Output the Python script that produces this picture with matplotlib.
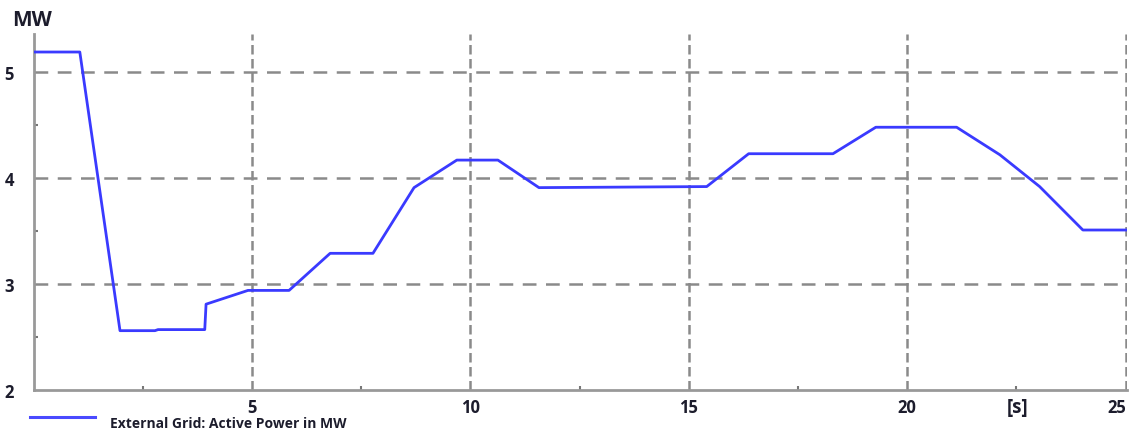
import numpy as np
import matplotlib
matplotlib.use("Agg")
import matplotlib.pyplot as plt
import matplotlib.transforms as mtransforms

# time in s, active power in MW
t = [0.0, 1.06, 1.98, 2.78, 2.85, 3.92, 3.95, 4.91, 5.85, 6.79, 7.77, 8.71,
     9.69, 10.63, 11.57, 15.41, 16.37, 18.30, 19.28, 21.13, 22.12, 23.03,
     24.02, 25.03]
p_mw = [5.19, 5.19, 2.56, 2.56, 2.57, 2.57, 2.81, 2.94, 2.94, 3.29, 3.29, 3.91,
        4.17, 4.17, 3.91, 3.92, 4.23, 4.23, 4.48, 4.48, 4.22, 3.92,
        3.51, 3.51]

x_ticks = [5, 10, 15, 20, 25]
y_ticks = [2, 3, 4, 5]
series_label = "External Grid: Active Power in MW"

plt.rcParams['font.family'] = ['Open Sans', 'DejaVu Sans']
txt = '#1c1c2c'
grid_c = '#8a8a8a'

fig = plt.figure(figsize=(11.32, 4.35), dpi=100)
ax = fig.add_axes([33.5 / 1132, 44 / 435, (1127 - 33.5) / 1132, (391 - 35) / 435])

ax.plot(t, p_mw, color='#3a3aff', lw=2.0, label=series_label, zorder=3)

ax.set_xlim(0, 25.03)
ax.set_ylim(2.02, 5.36)
ax.set_xticks(x_ticks)
ax.set_yticks(y_ticks)
ax.set_xticks(np.arange(2.5, 25, 5), minor=True)
ax.set_yticks([2.5, 3.5, 4.5], minor=True)

for v in x_ticks:
    ax.axvline(v, color=grid_c, lw=1.8, ls=(0, (3.8, 1.8)), zorder=1)
for v in y_ticks[1:]:
    ax.axhline(v, color=grid_c, lw=1.8, ls=(0, (5.5, 3.8)), zorder=1)

for s in ['top', 'right']:
    ax.spines[s].set_visible(False)
for s in ['left', 'bottom']:
    ax.spines[s].set_color('#999999')
    ax.spines[s].set_linewidth(2)

ax.tick_params(which='major', length=0, labelsize=12, labelcolor=txt, pad=6)
ax.tick_params(which='minor', direction='in', length=3, width=1.5, color='#777777')
ax.tick_params(axis='y', pad=14)
for lab in ax.get_xticklabels() + ax.get_yticklabels():
    lab.set_fontweight('bold')

# last x label sits a bit left so it stays inside the picture
fig.canvas.draw()
last = ax.get_xticklabels()[-1]
last.set_transform(last.get_transform() +
                   mtransforms.ScaledTranslation(-9 / 100, 0, fig.dpi_scale_trans))

fig.text(12 / 1132, 1 - 20 / 435, "MW", fontsize=15, fontweight='bold', color=txt,
         va='center', ha='left')
fig.text(1018 / 1132, 1 - 408 / 435, "[s]", fontsize=13.5, fontweight='bold', color=txt,
         va='center', ha='center')

fig.lines.append(plt.Line2D([30 / 1132, 95 / 1132], [1 - 418 / 435] * 2,
                            transform=fig.transFigure, color='#4a4aff', lw=2.2))
fig.text(110 / 1132, 1 - 424 / 435, series_label, fontsize=10, fontweight='bold',
         color=txt, va='center', ha='left')

fig.savefig("out.png", dpi=100)
